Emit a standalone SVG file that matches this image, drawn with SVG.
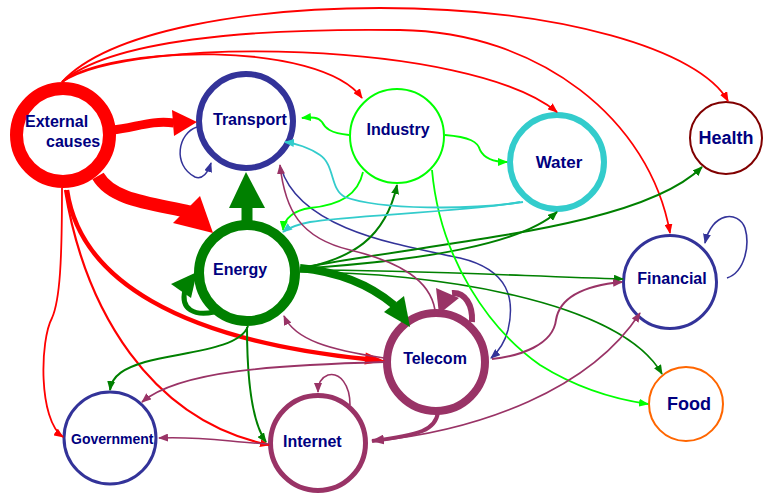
<svg xmlns="http://www.w3.org/2000/svg" width="763" height="494" viewBox="0 0 763 494">
<style>
.n{fill:#fff}
.t{font-family:"Liberation Sans",Arial,sans-serif;font-weight:bold;fill:#000080;font-size:16px}
.e{fill:none}
.red{stroke:#ff0000}
.grn{stroke:#008000}
.lg{stroke:#00ff00}
.cy{stroke:#33cccc}
.pu{stroke:#993366}
.bl{stroke:#333399}
</style>
<defs>
<marker id="ar" markerUnits="userSpaceOnUse" markerWidth="10" markerHeight="8" viewBox="0 0 10 8" refX="9" refY="4" orient="auto"><path d="M0,0 L10,4 L0,8 z" fill="#ff0000"/></marker>
<marker id="ag" markerUnits="userSpaceOnUse" markerWidth="10" markerHeight="8" viewBox="0 0 10 8" refX="9" refY="4" orient="auto"><path d="M0,0 L10,4 L0,8 z" fill="#008000"/></marker>
<marker id="alg" markerUnits="userSpaceOnUse" markerWidth="10" markerHeight="8" viewBox="0 0 10 8" refX="9" refY="4" orient="auto"><path d="M0,0 L10,4 L0,8 z" fill="#00ff00"/></marker>
<marker id="acy" markerUnits="userSpaceOnUse" markerWidth="10" markerHeight="8" viewBox="0 0 10 8" refX="9" refY="4" orient="auto"><path d="M0,0 L10,4 L0,8 z" fill="#33cccc"/></marker>
<marker id="apu" markerUnits="userSpaceOnUse" markerWidth="10" markerHeight="8" viewBox="0 0 10 8" refX="9" refY="4" orient="auto"><path d="M0,0 L10,4 L0,8 z" fill="#993366"/></marker>
<marker id="apuL" markerUnits="userSpaceOnUse" markerWidth="13" markerHeight="10" viewBox="0 0 13 10" refX="12" refY="5" orient="auto"><path d="M0,0 L13,5 L0,10 z" fill="#993366"/></marker>
<marker id="abl" markerUnits="userSpaceOnUse" markerWidth="10" markerHeight="8" viewBox="0 0 10 8" refX="9" refY="4" orient="auto"><path d="M0,0 L10,4 L0,8 z" fill="#333399"/></marker>
</defs>

<g id="node-external">
<circle class="n" cx="63" cy="135" r="46.5" stroke="#ff0000" stroke-width="13"/>
<text class="t" x="25" y="127">External</text>
<text class="t" x="46" y="147">causes</text>
</g>
<g id="node-transport">
<circle class="n" cx="246" cy="121" r="47" stroke="#333399" stroke-width="6"/>
<text class="t" x="213" y="125">Transport</text>
</g>
<g id="node-industry">
<circle class="n" cx="397" cy="136" r="47" stroke="#00ff00" stroke-width="2"/>
<text class="t" x="398" y="135" text-anchor="middle">Industry</text>
</g>
<g id="node-water">
<circle class="n" cx="557" cy="162" r="47" stroke="#33cccc" stroke-width="6"/>
<text class="t" x="559" y="168" text-anchor="middle" style="font-size:17px">Water</text>
</g>
<g id="node-health">
<circle class="n" cx="726" cy="138" r="36" stroke="#800000" stroke-width="2"/>
<text class="t" x="726" y="144" text-anchor="middle" style="font-size:18px">Health</text>
</g>
<g id="node-financial">
<circle class="n" cx="670" cy="282" r="46.5" stroke="#333399" stroke-width="3"/>
<text class="t" x="672" y="284" text-anchor="middle">Financial</text>
</g>
<g id="node-food">
<circle class="n" cx="686" cy="404" r="37" stroke="#ff6600" stroke-width="2"/>
<text class="t" x="689" y="410" text-anchor="middle" style="font-size:18px">Food</text>
</g>
<g id="node-energy">
<circle class="n" cx="247" cy="273" r="48" stroke="#008000" stroke-width="10"/>
<text class="t" x="213" y="275">Energy</text>
</g>
<g id="node-telecom">
<circle class="n" cx="436" cy="362" r="49" stroke="#993366" stroke-width="8"/>
<text class="t" x="435" y="364" text-anchor="middle">Telecom</text>
</g>
<g id="node-internet">
<circle class="n" cx="318" cy="443" r="47.5" stroke="#993366" stroke-width="5"/>
<text class="t" x="283" y="447">Internet</text>
</g>
<g id="node-government">
<circle class="n" cx="110" cy="438" r="46" stroke="#333399" stroke-width="3"/>
<text class="t" x="71" y="444" style="font-size:14px">Government</text>
</g>

<g id="connectors">
<!-- External causes -->
<path class="e red" stroke-width="9" d="M112 130 C135 128 150 120 174 123"/>
<polygon fill="#ff0000" points="172,110 197,122 174,136"/>
<path class="e red" stroke-width="13" d="M98 176 C112 200 150 203 190 212"/>
<polygon fill="#ff0000" points="173,223 200,196 213,233"/>
<path class="e red" stroke-width="1.8" marker-end="url(#ar)" d="M62 82 C110 45 320 40 362 98"/>
<path class="e red" stroke-width="1.8" marker-end="url(#ar)" d="M62 82 C130 35 470 40 557 112"/>
<path class="e red" stroke-width="1.8" marker-end="url(#ar)" d="M62 82 C110 40 250 28 400 30 C540 32 650 120 670 233"/>
<path class="e red" stroke-width="1.8" marker-end="url(#ar)" d="M62 82 C110 30 250 8 380 8 C560 8 700 50 728 101"/>
<path class="e red" stroke-width="1.8" marker-end="url(#ar)" d="M62 188 C62 260 60 300 52 318 C40 340 38 420 63 437"/>
<path class="e red" stroke-width="2.2" marker-end="url(#ar)" d="M65 190 C85 310 150 420 269 445"/>
<path class="e red" stroke-width="4.5" d="M67 190 C80 280 180 340 366 359"/>
<polygon fill="#ff0000" points="365.8,352.6 385,361 364.4,364.6"/>
<!-- Transport -->
<path class="e bl" stroke-width="1.5" marker-end="url(#abl)" d="M197 127 C178 133 172 165 195 177 C203 180 208 172 211 163"/>
<path class="e bl" stroke-width="1.5" marker-end="url(#abl)" d="M281 168 C300 230 400 245 460 258 C510 270 515 300 508 330 C504 345 498 352 491 358"/>
<!-- Energy -->
<path class="e grn" stroke-width="11" d="M247 222 L247 205"/>
<polygon fill="#008000" points="229,208 246,172 265,208"/>
<path class="e grn" stroke-width="5" d="M214 312 C195 316 180 310 185 290"/>
<polygon fill="#008000" points="171,284 197,272 191,298"/>
<path class="e grn" stroke-width="8" d="M300 268 C340 272 370 285 394 305"/>
<polygon fill="#008000" points="384,312 404,296 410,327"/>
<path class="e grn" stroke-width="2" marker-end="url(#ag)" d="M305 268 C350 258 385 240 397 185"/>
<path class="e grn" stroke-width="2" marker-end="url(#ag)" d="M310 268 C420 260 520 245 557 212"/>
<path class="e grn" stroke-width="2" marker-end="url(#ag)" d="M300 268 C450 240 640 228 702 167"/>
<path class="e grn" stroke-width="1.6" marker-end="url(#ag)" d="M302 270 C420 270 520 276 623 279"/>
<path class="e grn" stroke-width="1.6" marker-end="url(#ag)" d="M300 272 C430 272 620 300 662 374"/>
<path class="e grn" stroke-width="2" marker-end="url(#ag)" d="M248 326 C240 350 180 352 145 362 C125 368 112 375 110 390"/>
<path class="e grn" stroke-width="2" marker-end="url(#ag)" d="M247 327 C247 370 250 420 266 442"/>
<!-- Industry -->
<path class="e lg" stroke-width="1.8" marker-end="url(#alg)" d="M349 135 C330 133 325 128 322 122 C318 117 312 117 302 118"/>
<path class="e lg" stroke-width="1.8" marker-end="url(#alg)" d="M445 135 C470 137 478 142 480 150 C484 158 492 162 507 162"/>
<path class="e lg" stroke-width="1.8" marker-end="url(#alg)" d="M363 172 C358 195 340 205 310 208 C295 210 284 218 283 230"/>
<path class="e lg" stroke-width="1.8" marker-end="url(#alg)" d="M432 170 C440 260 490 330 540 365 C580 390 620 400 648 404"/>
<!-- Water -->
<path class="e cy" stroke-width="1.8" marker-end="url(#acy)" d="M523 202 C470 210 380 210 345 197 C330 190 335 165 320 155 C310 148 295 143 285 142"/>
<path class="e cy" stroke-width="1.8" marker-end="url(#acy)" d="M520 202 C470 212 350 215 310 222 C295 225 288 228 283 232"/>
<!-- Telecom -->
<path class="e pu" stroke-width="6" d="M472 322 C473 305 465 292 452 293"/>
<polygon fill="#993366" points="436,288 459,298 439,314"/>
<path class="e pu" stroke-width="1.6" marker-end="url(#apu)" d="M435 310 C430 280 400 262 350 250 C300 238 285 210 280 165"/>
<path class="e pu" stroke-width="1.6" marker-end="url(#apu)" d="M384 358 C330 350 295 340 284 316"/>
<path class="e pu" stroke-width="1.8" marker-end="url(#apu)" d="M384 362 C280 365 180 370 142 402"/>
<path class="e pu" stroke-width="4" marker-end="url(#apuL)" d="M438 412 C436 430 420 435 372 441"/>
<path class="e pu" stroke-width="2" marker-end="url(#apu)" d="M492 359 C520 356 553 345 556 320 C560 295 590 285 622 282"/>
<!-- Internet -->
<path class="e pu" stroke-width="1.6" marker-end="url(#apu)" d="M376 441 C480 430 590 390 640 313"/>
<path class="e pu" stroke-width="1.6" marker-end="url(#apu)" d="M268 444 C230 442 200 436 159 438"/>
<path class="e pu" stroke-width="1.6" marker-end="url(#apu)" d="M350 405 C350 385 340 372 328 375 C320 378 318 384 318 392"/>
<!-- Financial -->
<path class="e bl" stroke-width="1.6" marker-end="url(#abl)" d="M727 278 C745 272 750 245 745 228 C738 210 712 212 705 243"/>
</g>
</svg>
